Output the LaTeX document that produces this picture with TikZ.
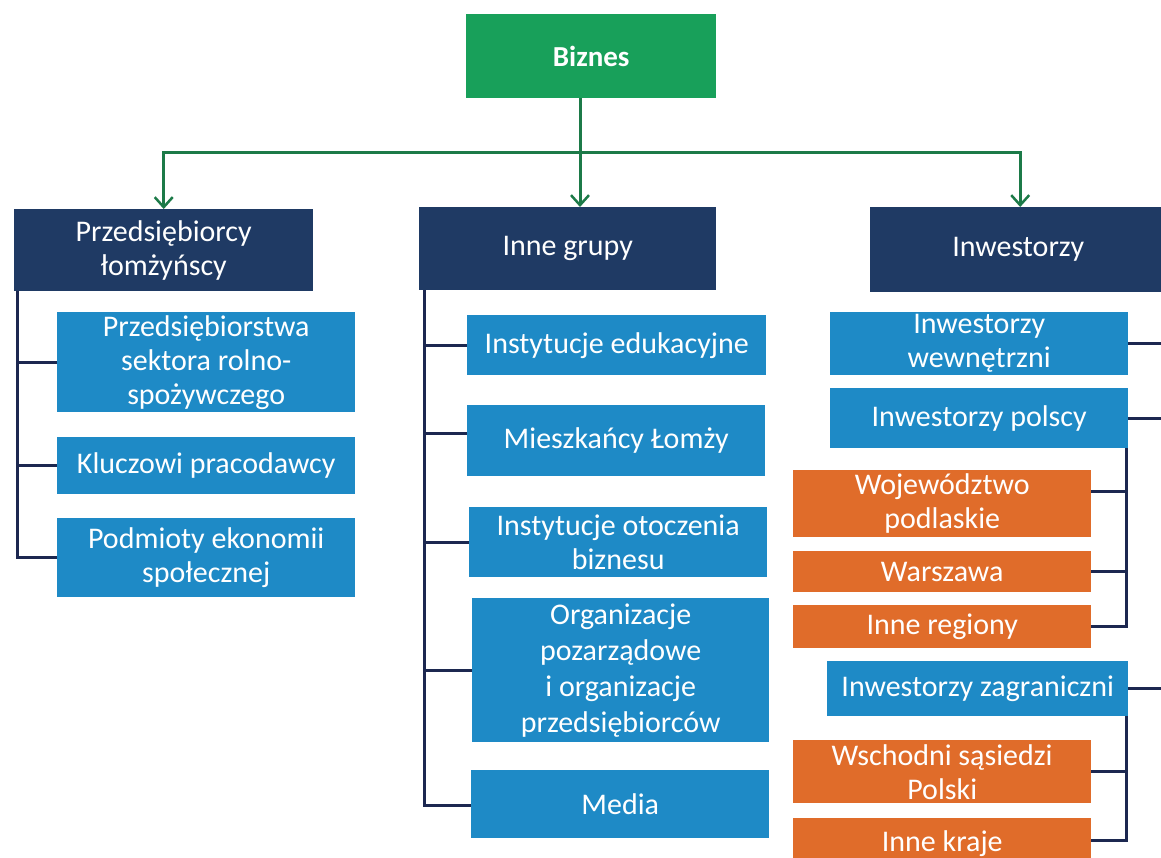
\documentclass[tikz,border=0pt]{standalone}
\usepackage{fontspec}
\setmainfont{Carlito}
\usetikzlibrary{arrows.meta}

\definecolor{bizgreen}{RGB}{24,160,90}
\definecolor{navybox}{RGB}{31,58,100}
\definecolor{skyblue}{RGB}{30,138,198}
\definecolor{rustorange}{RGB}{224,108,42}
\definecolor{connavy}{RGB}{28,40,80}
\definecolor{arrowgreen}{RGB}{28,122,72}

\tikzset{
  box/.style={anchor=north west, inner sep=0pt, align=center, text=white,
    font=\fontsize{30}{34}\selectfont},
  greenbox/.style={box, fill=bizgreen, font=\bfseries\fontsize{29}{34}\selectfont},
  headbox/.style={box, fill=navybox},
  itembox/.style={box, fill=skyblue},
  subbox/.style={box, fill=rustorange},
  conn/.style={draw=connavy, line width=3pt},
  gline/.style={draw=arrowgreen, line width=3pt},
  garrow/.style={gline, -{Straight Barb[length=10pt,width=18pt,line width=2.5pt]}},
}

\begin{document}
\begin{tikzpicture}[x=1pt, y=-1pt]
  \useasboundingbox (0,0) rectangle (1161,858);
  \clip (0,0) rectangle (1161,858);
  \fill[white] (0,0) rectangle (1161,858);

  % root
  \node[greenbox, minimum width=250, minimum height=84] (biz) at (466,14) {Biznes};

  % second level
  \node[headbox, minimum width=299, minimum height=82] (p1) at (14,209) {Przedsiębiorcy\\łomżyńscy};
  \node[headbox, minimum width=297, minimum height=83] (grp) at (419,207) {Inne grupy};
  \node[headbox, minimum width=296, minimum height=85] (inw) at (870,207) {Inwestorzy};

  % left column
  \node[itembox, minimum width=298, minimum height=100] (c11) at (57,312) {Przedsiębiorstwa\\sektora rolno-\\spożywczego};
  \node[itembox, minimum width=298, minimum height=57] (c12) at (57,437) {Kluczowi pracodawcy};
  \node[itembox, minimum width=298, minimum height=79] (c13) at (57,518) {Podmioty ekonomii\\społecznej};

  % middle column
  \node[itembox, minimum width=299, minimum height=60] (c21) at (467,315) {Instytucje edukacyjne};
  \node[itembox, minimum width=298, minimum height=71] (c22) at (467,405) {Mieszkańcy Łomży};
  \node[itembox, minimum width=298, minimum height=70] (c23) at (469,507) {Instytucje otoczenia\\biznesu};
  \node[itembox, minimum width=297, minimum height=144, font=\fontsize{30}{36}\selectfont] (c24) at (472,598) {Organizacje\\pozarządowe\\i organizacje\\przedsiębiorców};
  \node[itembox, minimum width=298, minimum height=68] (c25) at (471,770) {Media};

  % right column
  \node[itembox, minimum width=298, minimum height=63] (r1) at (830,312) {Inwestorzy\\wewnętrzni};
  \node[itembox, minimum width=298, minimum height=60] (r2) at (830,388) {Inwestorzy polscy};
  \node[subbox, minimum width=298, minimum height=67] (o1) at (793,470) {Województwo\\podlaskie};
  \node[subbox, minimum width=298, minimum height=41] (o2) at (793,551) {Warszawa};
  \node[subbox, minimum width=298, minimum height=43] (o3) at (793,605) {Inne regiony};
  \node[itembox, minimum width=301, minimum height=55] (r3) at (827,661) {Inwestorzy zagraniczni};
  \node[subbox, minimum width=298, minimum height=63] (o4) at (793,740) {Wschodni sąsiedzi\\Polski};
  \node[subbox, minimum width=298, minimum height=50] (o5) at (793,818) {Inne kraje};

  % green distribution arrows
  \coordinate (hub) at (580,153);
  \draw[gline] (biz.south -| hub) -- (hub);
  \draw[garrow] (hub) -- (hub |- grp.north);
  \draw[garrow] (hub) -| (p1.north);
  \draw[garrow] (hub) -| ([xshift=2]inw.north);

  % left column tree
  \draw[conn] ([xshift=3]p1.south west) |- (c13.west);
  \draw[conn] (c11.west) -- ([xshift=3]c11.west -| p1.west);
  \draw[conn] (c12.west) -- ([xshift=3]c12.west -| p1.west);

  % middle column tree
  \draw[conn] ([xshift=5]grp.south west) |- ([yshift=-1]c25.west);
  \draw[conn] (c21.west) -- ([xshift=5]c21.west -| grp.west);
  \draw[conn] ([yshift=7]c22.west) -- ([xshift=5,yshift=7]c22.west -| grp.west);
  \draw[conn] (c23.west) -- ([xshift=5]c23.west -| grp.west);
  \draw[conn] (c24.west) -- ([xshift=5]c24.west -| grp.west);

  % right column: links to the frame edge
  \coordinate (edge) at (1161,0);
  \draw[conn] (r1.east) -- (r1.east -| edge);
  \draw[conn] (r2.east) -- (r2.east -| edge);
  \draw[conn] (r3.east) -- (r3.east -| edge);

  % Polish investors sub-tree
  \draw[conn] ([xshift=-2]r2.south east) |- (o3.east);
  \draw[conn] ([yshift=12]o1.east) -- ([xshift=-2,yshift=12]o1.east -| r2.east);
  \draw[conn] (o2.east) -- ([xshift=-2]o2.east -| r2.east);

  % foreign investors sub-tree
  \draw[conn] ([xshift=-2]r3.south east) |- ([yshift=3]o5.east);
  \draw[conn] (o4.east) -- ([xshift=-2]o4.east -| r3.east);
\end{tikzpicture}
\end{document}
